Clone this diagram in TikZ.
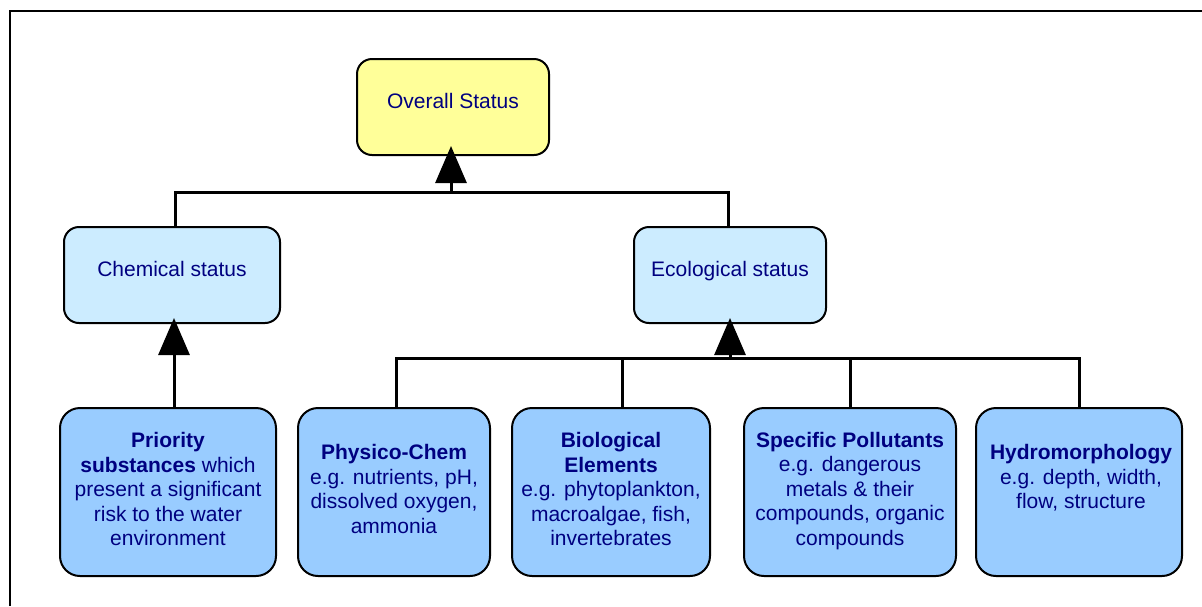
\documentclass[tikz,border=0pt]{standalone}
\usepackage{fontspec}
\setmainfont{Liberation Sans}
\usetikzlibrary{arrows.meta,calc}
\definecolor{txt}{HTML}{000080}
\definecolor{yel}{HTML}{FFFF99}
\definecolor{pale}{HTML}{CCECFF}
\definecolor{lowblue}{HTML}{99CCFF}
\begin{document}
\begin{tikzpicture}[x=1pt,y=-1pt,
  box/.style={draw=black, line width=2pt, rounded corners=15pt, inner sep=0pt, minimum height=96pt},
  lowbox/.style={draw=black, line width=2pt, rounded corners=20pt, inner sep=0pt, minimum height=168pt, fill=lowblue},
  lbl/.style={text=txt, font=\fontsize{21}{24.5}\selectfont, align=center, inner sep=0pt},
  conn/.style={line width=3pt},
  arr/.style={line width=3pt, -{Triangle[width=31pt,length=37pt]}}]
\useasboundingbox (0,0) rectangle (1202,606);
\fill[white] (0,0) rectangle (1202,606);
\draw[line width=1.5pt] (10,606) -- (10,11) -- (1202,11);

% boxes
\node[box, fill=yel, minimum width=192pt] (overall) at (453,107) {};
\node[box, fill=pale, minimum width=216pt] (chem) at (172,275) {};
\node[box, fill=pale, minimum width=192pt] (eco) at (730,275) {};
\node[lowbox, minimum width=216pt] (prio) at (168,492) {};
\node[lowbox, minimum width=192pt] (phys) at (394,492) {};
\node[lowbox, minimum width=198pt] (bio) at (611,492) {};
\node[lowbox, minimum width=212pt] (spec) at (850,492) {};
\node[lowbox, minimum width=206pt] (hyd) at (1079,492) {};

% labels
\node[lbl] (overallt) at (453,101) {Overall Status};
\node[lbl] (chemt) at (172,269) {Chemical status};
\node[lbl] (ecot) at (730,271) {Ecological status};
\node[lbl] (priot) at (168,489) {\textbf{Priority}\\\textbf{substances} which\\present a significant\\risk to the water\\environment};
\node[lbl] (physt) at (394,489) {\textbf{Physico-Chem}\\e.g. nutrients, pH,\\dissolved oxygen,\\ammonia};
\node[lbl] (biot) at (611,489) {\textbf{Biological}\\\textbf{Elements}\\e.g. phytoplankton,\\macroalgae, fish,\\invertebrates};
\node[lbl] (spect) at (850,491) {\textbf{Specific Pollutants}\\e.g. dangerous\\metals \& their\\compounds, organic\\compounds};
\node[lbl] (hydt) at (1081,478) {\textbf{Hydromorphology}\\e.g. depth, width,\\flow, structure};

% connectors top
\coordinate (j1) at (451,192);
\draw[conn] ($(chem.north)+(3,0)$) |- (j1) -| ($(eco.north)+(-2,0)$);
\draw[arr] (j1) -- ($(j1 |- overall.south)+(0,-10)$);

% connectors bottom
\coordinate (j2) at (730,358);
\draw[conn] ($(phys.north)+(2,0)$) |- (j2) -| (hyd.north);
\draw[conn] ($(bio.north)+(11,0)$) -- ++(0,-50);
\draw[conn] (spec.north) -- (spec.north |- j2);
\draw[arr] (j2) -- ($(eco.south)+(0,-6)$);
\draw[arr] ($(prio.north)+(6,0)$) -- ($(chem.south)+(2,-6)$);
\end{tikzpicture}
\end{document}
